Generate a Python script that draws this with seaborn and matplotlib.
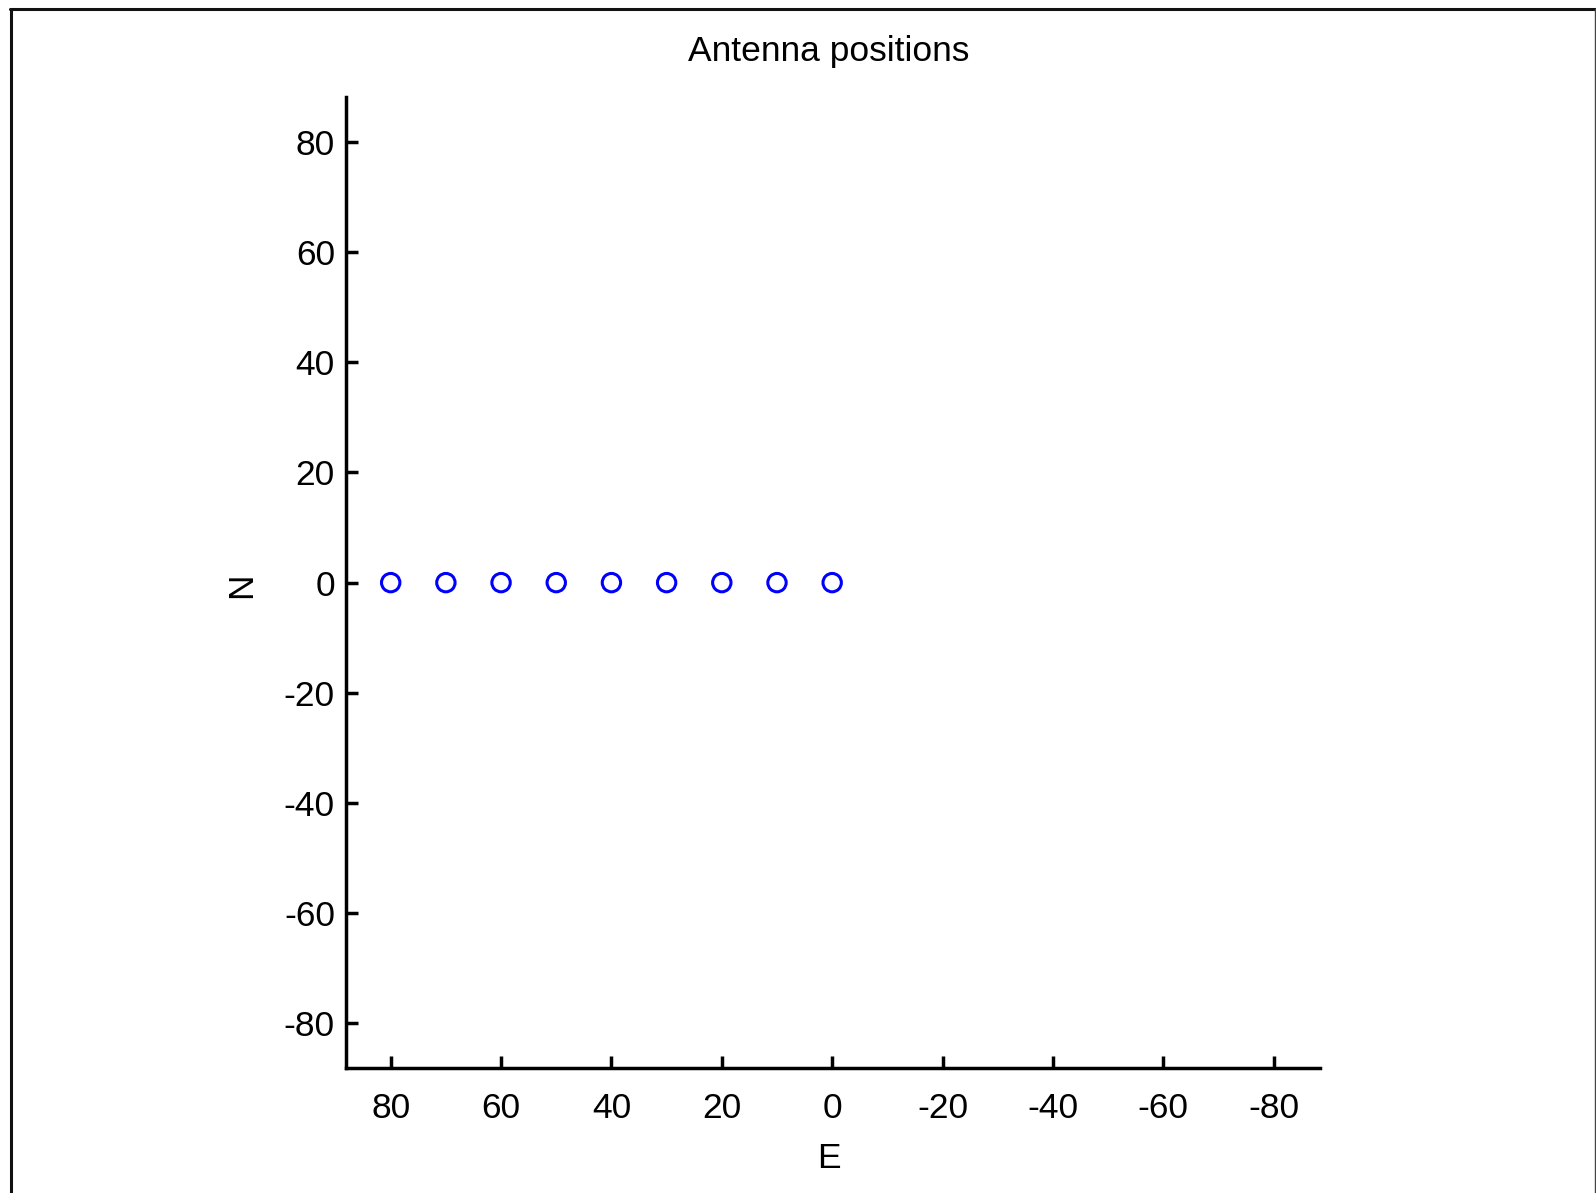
import matplotlib
matplotlib.use("Agg")
import matplotlib.pyplot as plt
from matplotlib.lines import Line2D
import numpy as np
import pandas as pd
import seaborn as sns

# Antenna layout: a single east-west line of elements
east = [80, 70, 60, 50, 40, 30, 20, 10, 0]
north = [0, 0, 0, 0, 0, 0, 0, 0, 0]
tick_values = [80, 60, 40, 20, 0, -20, -40, -60, -80]

df = pd.DataFrame({"E": east, "N": north})

sns.set_theme(style="ticks")
plt.rcParams["font.family"] = ["Liberation Sans", "DejaVu Sans"]
plt.rcParams["text.color"] = "black"
plt.rcParams["axes.labelcolor"] = "black"

W, H = 1596, 1193
fig = plt.figure(figsize=(W / 100, H / 100), dpi=100)
fig.patch.set_facecolor("white")

left, right, top, bottom = 346, 1320, 96.7, 1068
ax = fig.add_axes([left / W, 1 - bottom / H, (right - left) / W, (bottom - top) / H])

sns.scatterplot(data=df, x="E", y="N", ax=ax, marker="o", s=175,
                facecolors="none", edgecolor="#0000ff", linewidth=2.2,
                legend=False, zorder=3)

ax.set_xlim(88.1, -88.4)
ax.set_ylim(-88.1, 88.2)
ax.set_xticks(tick_values)
ax.set_yticks(tick_values)
ax.set_xticklabels([str(v) for v in tick_values])
ax.set_yticklabels([str(v) for v in tick_values])

sns.despine(ax=ax)
for s in ("left", "bottom"):
    ax.spines[s].set_linewidth(2.5)
    ax.spines[s].set_color("black")
ax.tick_params(axis="both", direction="in", length=8.6, width=2.5,
               colors="black", labelsize=25.5)
ax.tick_params(axis="x", pad=17)
ax.tick_params(axis="y", pad=8)

ax.set_xlabel("E", fontsize=25.5, color="black")
ax.set_ylabel("N", fontsize=25.5, color="black")
ax.xaxis.set_label_coords((829 - left) / (right - left), (bottom - 1158) / (bottom - top))
ax.xaxis.label.set_va("center")
ax.yaxis.set_label_coords((242 - left) / (right - left), (bottom - 585) / (bottom - top))
ax.yaxis.label.set_va("center")

fig.text(829 / W, 1 - 51.5 / H, "Antenna positions", ha="center", va="center",
         fontsize=25.5, color="black")

# window frame around the figure
fig.add_artist(Line2D([10.5 / W, 10.5 / W], [0, 1 - 8.5 / H],
                      transform=fig.transFigure, color="#111111", lw=2.2))
fig.add_artist(Line2D([10 / W, 1595 / W], [1 - 8.5 / H, 1 - 8.5 / H],
                      transform=fig.transFigure, color="#111111", lw=2.2))
fig.add_artist(Line2D([1594.8 / W, 1594.8 / W], [0, 1 - 8.5 / H],
                      transform=fig.transFigure, color="#444444", lw=1.0))

fig.savefig("out.png", dpi=100, facecolor="white")
